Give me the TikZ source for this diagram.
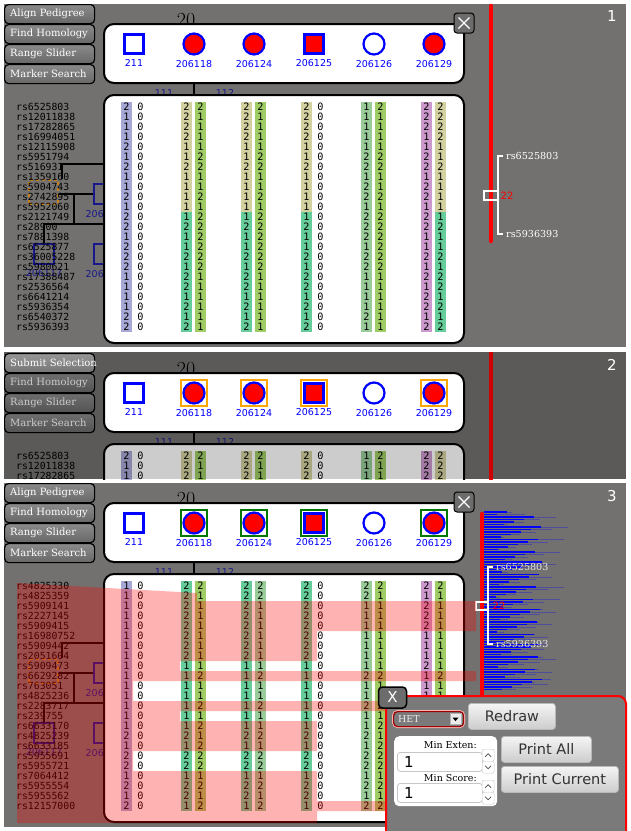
\documentclass[tikz,border=0pt]{standalone}
\usepackage{fontspec}
\setsansfont{DejaVu Sans}
\setmonofont{DejaVu Sans Mono}
\newfontfamily\btnfont{DejaVu Serif}
\usetikzlibrary{positioning}

\definecolor{panelgray}{RGB}{114,113,111}
\definecolor{dlggray}{RGB}{122,122,122}
\definecolor{btntop}{RGB}{138,138,138}
\definecolor{btnbot}{RGB}{104,104,104}
\definecolor{littop}{RGB}{150,150,150}
\definecolor{litbot}{RGB}{118,118,118}
\definecolor{closegray}{RGB}{108,108,108}
\definecolor{glav}{RGB}{168,168,214}
\definecolor{gkhaki}{RGB}{212,209,160}
\definecolor{gteal}{RGB}{102,204,153}
\definecolor{glime}{RGB}{160,204,102}
\definecolor{gsage}{RGB}{153,204,153}
\definecolor{glilac}{RGB}{204,153,204}
\definecolor{treenavy}{RGB}{24,24,140}
\definecolor{pedblue}{RGB}{0,0,255}
\definecolor{treeorange}{RGB}{200,130,20}
\definecolor{hetred}{RGB}{150,0,0}
\definecolor{frorange}{RGB}{255,165,0}
\definecolor{frgreen}{RGB}{0,120,0}

\tikzset{
  panelbg/.style={fill=panelgray},
  btn/.style={rectangle, rounded corners=4pt, draw=black, line width=1.2pt,
    top color=btntop, bottom color=btnbot, minimum width=90pt,
    minimum height=19pt, inner sep=0pt, anchor=north west},
  btnlit/.style={btn, top color=littop, bottom color=litbot},
  btntxt/.style={font=\btnfont\fontsize{10}{10}\selectfont, text=white,
    inner sep=0pt, anchor=west},
  pedbox/.style={rectangle, rounded corners=10pt, draw=black, line width=2pt,
    fill=white, minimum width=360pt, minimum height=59pt},
  genbox/.style={pedbox, minimum height=248pt},
  yearlbl/.style={font=\fontsize{20}{20}\selectfont, inner sep=0pt},
  sqsym/.style={rectangle, draw=pedblue, line width=2.2pt, minimum size=19pt,
    inner sep=0pt},
  cisym/.style={circle, draw=pedblue, line width=2.2pt, minimum size=21pt,
    inner sep=0pt},
  frbox/.style={rectangle, line width=2.6pt, fill=white, minimum size=26pt,
    inner sep=0pt},
  plbl/.style={font=\sffamily\fontsize{9.5}{9.5}\selectfont, text=pedblue,
    inner sep=0pt},
  closebtn/.style={rectangle, rounded corners=3pt, draw=black, line width=1pt,
    fill=closegray, minimum size=20pt, inner sep=0pt},
  closex/.style={draw=white, line width=1.1pt},
  gcell/.style={rectangle, minimum width=11pt, minimum height=10pt,
    inner sep=0pt, font=\ttfamily\fontsize{10.2}{10}\selectfont},
  mname/.style={font=\ttfamily\fontsize{9.8}{10}\selectfont, inner sep=0pt,
    anchor=west},
  treeline/.style={draw=black, line width=1.4pt},
  treesq/.style={rectangle, draw=treenavy, line width=1.8pt, minimum size=20pt,
    inner sep=0pt},
  treeob/.style={rectangle, draw=treeorange, dashed, line width=1.8pt,
    minimum width=29pt, minimum height=24pt, inner sep=0pt},
  treelbl/.style={font=\sffamily\fontsize{9.5}{9.5}\selectfont, text=treenavy,
    inner sep=0pt},
  genlbl/.style={treelbl},
  stem/.style={draw=black, line width=1.4pt},
  chrom/.style={draw=red, line width=4.5pt, line cap=round},
  brk/.style={draw=white, line width=1.2pt},
  brklbl/.style={font=\btnfont\fontsize{9.6}{10}\selectfont, text=white,
    inner sep=0pt, anchor=west},
  chrnum/.style={font=\sffamily\fontsize{10}{10}\selectfont, text=red,
    inner sep=0pt},
  pnum/.style={font=\sffamily\fontsize{15}{15}\selectfont, text=white,
    inner sep=0pt},
  histline/.style={draw=blue, line width=1.2pt},
  histfade/.style={draw=blue, line width=0.9pt, opacity=0.3},
  homol/.style={fill=red, opacity=0.3},
  dlgbox/.style={rectangle, rounded corners=8pt, draw=red, line width=2pt,
    fill=dlggray, minimum width=240pt, minimum height=150pt,
    anchor=north west},
  dlgx/.style={rectangle, rounded corners=4pt, draw=black, line width=1.5pt,
    fill=closegray, minimum width=28pt, minimum height=21pt, inner sep=0pt,
    text=white, font=\sffamily\fontsize{15}{15}\selectfont},
  hetbox/.style={rectangle, rounded corners=4pt, draw=hetred, line width=1.2pt,
    fill=dlggray, preaction={draw=red!30, line width=3pt},
    minimum width=70pt, minimum height=15pt, anchor=north west},
  hettxt/.style={font=\btnfont\fontsize{9.5}{9.5}\selectfont, text=white!85!gray,
    inner sep=0pt, anchor=west},
  hetarr/.style={rectangle, fill=white!92!black, draw=gray!60, line width=0.4pt,
    minimum size=11pt, inner sep=0pt},
  guibtn/.style={rectangle, rounded corners=3pt, draw=gray!55, line width=0.8pt,
    top color=white!96!black, bottom color=white!80!black, inner sep=0pt,
    font=\sffamily\fontsize{14.5}{14.5}\selectfont, text=black!80,
    anchor=north west},
  setbox/.style={rectangle, rounded corners=5pt, fill=white, minimum width=103pt,
    minimum height=70pt, anchor=north west},
  setlbl/.style={font=\btnfont\fontsize{9.5}{9.5}\selectfont, inner sep=0pt,
    anchor=east},
  inbox/.style={rectangle, rounded corners=3pt, draw=gray!45, line width=0.8pt,
    fill=white, minimum width=85pt, minimum height=19pt, anchor=north west},
  intxt/.style={font=\sffamily\fontsize{15}{15}\selectfont, inner sep=0pt,
    anchor=west},
  spin/.style={rectangle, rounded corners=2pt, draw=gray!45, fill=white,
    minimum size=12pt, inner sep=0pt, anchor=north west},
  chev/.style={draw=black!70, line width=0.7pt}
}

\begin{document}
\begin{tikzpicture}[x=1pt, y=-1pt]
\useasboundingbox (0,0) rectangle (631,831);

\newcommand{\mkone}{rs6525803,rs12011838,rs17282865,rs16994051,rs12115908,rs5951794,rs516931,rs1359160,rs5904743,rs2742895,rs5952060,rs2121749,rs28900,rs7881398,rs6525877,rs36005228,rs5980621,rs17388487,rs2536564,rs6641214,rs5936354,rs6540372,rs5936393}
\newcommand{\mkthree}{rs4825330,rs4825359,rs5909141,rs2227145,rs5909415,rs16980752,rs5909442,rs2051604,rs5909473,rs6629282,rs763051,rs4825236,rs2283717,rs239755,rs6633170,rs4825239,rs6633185,rs5955691,rs5955721,rs7064412,rs5955554,rs5955562,rs12157000}
\newcommand{\nulls}{0,0,0,0,0,0,0,0,0,0,0,0,0,0,0,0,0,0,0,0,0,0,0}
\newcommand{\onea}{2,1,1,1,2,1,2,1,1,2,1,2,2,1,2,2,2,1,1,1,1,2,2}
\newcommand{\oneb}{2,2,2,2,1,1,2,1,1,1,1,1,2,1,1,2,1,2,2,1,2,1,2}
\newcommand{\onec}{2,1,1,1,1,2,2,1,1,2,1,2,2,2,2,2,2,1,1,1,1,1,1}
\newcommand{\oned}{1,1,1,1,1,2,2,1,2,2,1,2,2,2,1,2,2,1,1,1,1,2,1}
\newcommand{\onee}{2,2,2,1,1,2,2,1,2,2,1,2,2,1,1,2,1,2,1,2,2,1,2}
\newcommand{\threea}{1,1,1,1,1,1,1,1,1,1,1,1,1,1,1,2,1,2,2,1,2,1,2}
\newcommand{\threeb}{2,2,2,2,2,2,2,2,1,1,1,1,1,1,1,2,1,2,2,1,2,2,1}
\newcommand{\threec}{2,1,1,1,1,1,1,1,1,2,1,1,2,1,2,1,2,2,2,1,2,1,2}
\newcommand{\threed}{2,2,1,1,1,1,1,1,1,2,1,1,2,1,1,2,1,2,2,1,2,1,2}
\newcommand{\threee}{2,1,2,2,2,1,1,1,2,1,1,1,2,1,1,2,1,2,2,1,2,1,2}

\newcommand{\gcol}[6]{%
  \edef\glist{#6}%
  \foreach \d [count=\i] in \glist{%
    \ifnum\i>#5\relax\def\gc{#4}\else\def\gc{#3}\fi
    \node[gcell, fill=\gc] (#1-\i) at (#2,{97+10*\i}) {\d};
  }}
\newcommand{\guibutton}[3]{%
  \node[btn] (#1) at (4,#2) {};
  \node[btntxt] (#1-t) at ([xshift=6pt]#1.west) {#3};}
\newcommand{\closebox}[1]{%
  \node[closebtn] (#1-x) at (464,23) {};
  \draw[closex] ([shift={(5,5)}]#1-x.north west) -- ([shift={(-5,-5)}]#1-x.south east);
  \draw[closex] ([shift={(-5,5)}]#1-x.north east) -- ([shift={(5,-5)}]#1-x.south west);}
\newcommand{\pedhead}[2]{%
  \node[yearlbl] (#1-yr) at (186,20) {20};
  \node[pedbox] (#1-pbox) at (284,53.5) {};
  \foreach \px/\sh/\fc/\fr/\lb [count=\k] in
    {134/sqsym/white/none/211, 194/cisym/red/#2/206118,
     254/cisym/red/#2/206124, 314/sqsym/red/#2/206125,
     374/cisym/white/none/206126, 434/cisym/red/#2/206129}{
    \node[frbox, draw=\fr] (#1-f\k) at (\px,44) {};
    \node[\sh, fill=\fc] (#1-p\k) at (\px,44) {};
    \node[plbl, below=5pt of #1-p\k] (#1-n\k) {\lb};
  }}
\newcommand{\genoback}[2]{%
  \node[treeob] (#1-ob) at (43.5,192) {};
  \node[treesq] (#1-t1) at (104,194) {};
  \node[treesq] (#1-t2) at (104,254) {};
  \node[treesq] (#1-t3) at (44,254) {};
  \node[treelbl, anchor=east] (#1-u1) at (104,214) {206};
  \node[treelbl, anchor=east] (#1-u2) at (104,274) {206};
  \node[treelbl] (#1-u3) at (44,273) {206117};
  \coordinate (#1-j1) at (62,164);
  \coordinate (#1-j2) at (74,194);
  \coordinate (#1-j3) at (44,224);
  \draw[treeline] (#1-ob.north -| #1-j1) -- (#1-j1) -- ++(48,0);
  \draw[treeline] (#1-ob.east |- #1-t1) -- (#1-t1.west);
  \draw[treeline] (#1-j2) -- (#1-j2 |- #1-j3);
  \draw[treeline] (#1-t3.north) -- (#1-j3) -- ++(67,0);
  \foreach \m [count=\i] in #2{\node[mname] (#1-m\i) at (16,{97+10*\i}) {\m};}
  \node[genlbl] (#1-g1) at (164,93) {111};
  \node[genlbl] (#1-g2) at (225,93) {112};
  \coordinate (#1-s1) at (194,83);
  \coordinate (#1-s2) at (194,95);
  \draw[stem] (#1-s1) -- (#1-s2);
  \node[genbox] (#1-gbox) at (284,219) {};}
\newcommand{\colsone}[1]{%
  \gcol{#1-c1}{126.5}{glav}{glav}{99}{\onea}
  \gcol{#1-c2}{140.5}{none}{none}{99}{\nulls}
  \gcol{#1-c3}{186.5}{gkhaki}{gteal}{11}{\oneb}
  \gcol{#1-c4}{200.5}{glime}{glime}{99}{\onec}
  \gcol{#1-c5}{246.5}{gkhaki}{gteal}{11}{\oneb}
  \gcol{#1-c6}{260.5}{glime}{glime}{99}{\onec}
  \gcol{#1-c7}{306.5}{gkhaki}{gteal}{11}{\oneb}
  \gcol{#1-c8}{320.5}{none}{none}{99}{\nulls}
  \gcol{#1-c9}{366.5}{gsage}{gsage}{99}{\oned}
  \gcol{#1-c10}{380.5}{glime}{glime}{99}{\onec}
  \gcol{#1-c11}{426.5}{glilac}{glilac}{99}{\onee}
  \gcol{#1-c12}{440.5}{gkhaki}{gteal}{11}{\oneb}}

% panel 1
\fill[panelbg] (4,4) rectangle (626,347);
\draw[chrom] (491,6) -- (491,241);
\draw[brk] (503,156) -- (498,156) -- (498,234) -- (503,234);
\draw[brk] (498,191) -- (484,191) -- (484,200) -- (498,200);
\node[brklbl] (a-top) at (506,156) {rs6525803};
\node[brklbl] (a-bot) at (506,234) {rs5936393};
\node[chrnum] (a-chr) at (507,196) {22};
\genoback{a}{\mkone}
\colsone{a}
\pedhead{a}{none}
\closebox{a}
\guibutton{a-b1}{4}{Align Pedigree}
\guibutton{a-b2}{24}{Find Homology}
\guibutton{a-b3}{44}{Range Slider}
\guibutton{a-b4}{64}{Marker Search}
\node[pnum] (a-num) at (612,16) {1};

% panel 2
\begin{scope}[shift={(0,349)}]
\clip (4,3) rectangle (626,130);
\fill[panelbg] (4,3) rectangle (626,130);
\draw[chrom] (491,0) -- (491,140);
\genoback{b}{\mkone}
\colsone{b}
\guibutton{b-b2}{24}{Find Homology}
\guibutton{b-b3}{44}{Range Slider}
\guibutton{b-b4}{64}{Marker Search}
\fill[black, opacity=0.2] (4,3) rectangle (626,130);
\pedhead{b}{frorange}
\node[btnlit] (b-b1) at (4,4) {};
\node[btntxt] (b-b1-t) at ([xshift=6pt]b-b1.west) {Submit Selection};
\node[pnum] (b-num) at (612,16) {2};
\end{scope}

% panel 3
\begin{scope}[shift={(0,479)}]
\fill[panelbg] (4,4) rectangle (626,348);
\foreach \k in {0,...,71}{
  \pgfmathsetmacro{\hy}{33+2.5*\k}
  \pgfmathsetmacro{\hl}{12+mod(\k*37+11,47)}
  \pgfmathsetmacro{\hm}{\hl+mod(\k*23+5,29)}
  \draw[histfade] (484,\hy) -- ++(\hm,0);
  \draw[histline] (484,\hy) -- ++(\hl,0);
}
\draw[chrom] (482,35) -- (482,348);
\draw[brk] (493,88) -- (488,88) -- (488,165) -- (493,165);
\draw[brk] (488,123) -- (476,123) -- (476,131) -- (488,131);
\node[brklbl, text=white!80!gray] (c-top) at (496,88) {rs6525803};
\node[brklbl, text=white!80!gray] (c-bot) at (496,165) {rs5936393};
\node[chrnum] (c-chr) at (499,127) {22};
\genoback{c}{\mkthree}
\gcol{c-c1}{126.5}{glav}{glav}{99}{\threea}
\gcol{c-c2}{140.5}{none}{none}{99}{\nulls}
\gcol{c-c3}{186.5}{gteal}{gteal}{99}{\threeb}
\gcol{c-c4}{200.5}{glime}{glime}{99}{\threec}
\gcol{c-c5}{246.5}{gteal}{gteal}{99}{\threeb}
\gcol{c-c6}{260.5}{gsage}{gsage}{99}{\threed}
\gcol{c-c7}{306.5}{gteal}{gteal}{99}{\threeb}
\gcol{c-c8}{320.5}{none}{none}{99}{\nulls}
\gcol{c-c9}{366.5}{gsage}{gsage}{99}{\threed}
\gcol{c-c10}{380.5}{glime}{glime}{99}{\threec}
\gcol{c-c11}{426.5}{glilac}{glilac}{99}{\threee}
\gcol{c-c12}{440.5}{glime}{glime}{99}{\threec}
\pedhead{c}{frgreen}
\closebox{c}
\guibutton{c-b1}{4}{Align Pedigree}
\guibutton{c-b2}{24}{Find Homology}
\guibutton{c-b3}{44}{Range Slider}
\guibutton{c-b4}{64}{Marker Search}
\fill[homol] (17,104) -- (197,114) -- (197,122) -- (476,122) -- (476,152)
  -- (317,152) -- (317,182) -- (180,182) -- (180,192) -- (476,192)
  -- (476,202) -- (133,202) -- (133,222) -- (476,222) -- (476,232)
  -- (180,232) -- (180,242) -- (317,242) -- (317,272) -- (133,272)
  -- (133,292) -- (317,292) -- (317,322) -- (476,322) -- (476,332)
  -- (317,332) -- (317,344) -- (17,344) -- cycle;
\node[dlgbox] (c-dlg) at (385,216) {};
\node[dlgx] (c-dx) at (392.5,218.5) {X};
\node[hetbox] (c-het) at (393,232) {};
\node[hettxt] (c-het-t) at ([xshift=5pt]c-het.west) {HET};
\node[hetarr, anchor=east] (c-het-a) at ([xshift=-3pt]c-het.east) {};
\fill ([shift={(-3,-1.5)}]c-het-a.center) -- ++(6,0) -- ++(-3,3.5) -- cycle;
\node[guibtn, minimum width=87pt, minimum height=26pt] (c-redraw) at (468,224) {Redraw};
\node[setbox] (c-set) at (394,257) {};
\node[setlbl] (c-mxl) at (477,266) {Min Exten:};
\node[inbox] (c-mx) at (397,273) {};
\node[intxt] (c-mx-t) at ([xshift=7pt]c-mx.west) {1};
\node[spin] (c-mx-up) at (482,270) {};
\node[spin] (c-mx-dn) at (482,282) {};
\node[setlbl] (c-msl) at (477,299) {Min Score:};
\node[inbox] (c-ms) at (397,304) {};
\node[intxt] (c-ms-t) at ([xshift=7pt]c-ms.west) {1};
\node[spin] (c-ms-up) at (482,301) {};
\node[spin] (c-ms-dn) at (482,313) {};
\foreach \s in {c-mx-up,c-ms-up}{\draw[chev] ([shift={(-3,1.5)}]\s.center) -- ++(3,-3) -- ++(3,3);}
\foreach \s in {c-mx-dn,c-ms-dn}{\draw[chev] ([shift={(-3,-1.5)}]\s.center) -- ++(3,3) -- ++(3,-3);}
\node[guibtn, minimum width=90pt, minimum height=26pt] (c-pall) at (501,257) {Print All};
\node[guibtn, minimum width=117pt, minimum height=26pt] (c-pcur) at (501,287) {Print Current};
\node[pnum] (c-num) at (612,17) {3};
\end{scope}
\end{tikzpicture}
\end{document}
